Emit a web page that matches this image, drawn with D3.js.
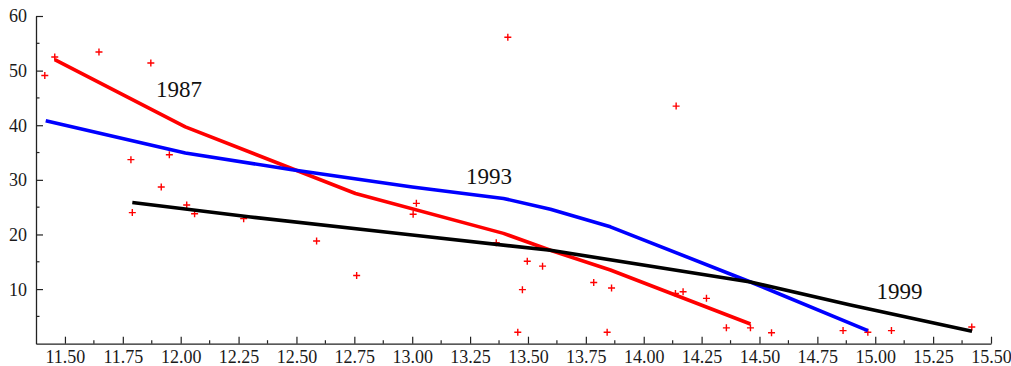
<!DOCTYPE html>
<html>
<head>
<meta charset="utf-8">
<script src="https://cdn.jsdelivr.net/npm/d3@7/dist/d3.min.js"></script>
<style>
  body { margin: 0; background: #fff; }
</style>
</head>
<body>
<div id="chart"></div>
<script>
// scatter points (x, y)
const pointsX = [11.413, 11.456, 11.647, 11.871, 11.785, 11.951, 11.791, 11.916, 12.026, 12.060,
  12.272, 12.587, 12.760, 13.004, 13.018, 13.363, 13.497, 13.563, 13.476, 13.456,
  13.413, 14.140, 13.784, 13.861, 13.842, 14.137, 14.170, 14.271, 14.357, 14.461,
  14.552, 14.861, 14.968, 15.070, 15.417];
const pointsY = [49.1, 52.5, 53.4, 51.4, 33.7, 34.6, 24.0, 28.7, 25.4, 23.8,
  22.9, 18.8, 12.5, 23.7, 25.7, 18.5, 15.1, 14.2, 9.9, 2.1,
  56.1, 43.5, 11.2, 10.2, 2.1, 9.2, 9.5, 8.3, 2.9, 2.9,
  2.0, 2.4, 2.1, 2.4, 3.05];

// fitted curves
const red1987X = [11.456, 12.02, 12.755, 13.394, 13.597, 13.856, 14.461];
const red1987Y = [52.0, 39.7, 27.5, 20.2, 17.1, 13.5, 3.6];
const blue1993X = [11.417, 12.02, 12.474, 13.0, 13.394, 13.597, 13.856, 14.461, 14.968];
const blue1993Y = [40.8, 34.9, 31.9, 28.7, 26.6, 24.6, 21.4, 11.3, 2.4];
const black1999X = [11.791, 12.302, 13.0, 13.597, 14.461, 14.893, 15.418];
const black1999Y = [25.85, 23.2, 19.9, 17.1, 11.3, 7.1, 2.3];

const xTicks = [11.5, 11.75, 12.0, 12.25, 12.5, 12.75, 13.0, 13.25, 13.5, 13.75, 14.0, 14.25, 14.5, 14.75, 15.0, 15.25, 15.5];
const yTicks = [10, 20, 30, 40, 50, 60];

const serif = '"Liberation Serif", "Times New Roman", serif';
const width = 1011, height = 366;
const x = d3.scaleLinear().domain([11.375, 15.5]).range([36, 991]);
const y = d3.scaleLinear().domain([0, 60]).range([343.7, 16]);

const svg = d3.select('#chart').append('svg')
  .attr('width', width)
  .attr('height', height);

// minor ticks
const xMinor = xTicks.map(d => d - 0.125).filter(d => d > 11.4);
const yMinor = yTicks.map(d => d - 5);

const xAxis = svg.append('g')
  .attr('transform', `translate(0,${y(0)})`)
  .call(d3.axisBottom(x).tickValues(xTicks).tickFormat(d3.format('.2f')).tickSizeInner(-7).tickSizeOuter(0));
xAxis.selectAll('.tick text').attr('y', 19.5).attr('dy', 0);
xAxis.append('g').selectAll('line').data(xMinor).enter().append('line')
  .attr('x1', d => x(d)).attr('x2', d => x(d)).attr('y1', 0).attr('y2', -3.5);

const yAxis = svg.append('g')
  .attr('transform', `translate(${x(11.375)},0)`)
  .call(d3.axisLeft(y).tickValues(yTicks).tickSizeInner(-7).tickSizeOuter(0));
yAxis.selectAll('.tick text').attr('x', -9).attr('dy', '0.33em');
yAxis.append('g').selectAll('line').data(yMinor).enter().append('line')
  .attr('x1', 0).attr('x2', 3.5).attr('y1', d => y(d)).attr('y2', d => y(d));

[xAxis, yAxis].forEach(g => g.attr('font-family', serif).attr('font-size', 18));
svg.selectAll('.domain').attr('stroke', '#222').attr('stroke-width', 1.3);
svg.selectAll('line').attr('stroke', '#222').attr('stroke-width', 1.2);
svg.selectAll('.tick text')
  .style('font-family', serif)
  .style('font-size', '18px')
  .attr('fill', '#1a1a1a');

// scatter crosses
const pts = pointsX.map((v, i) => [v, pointsY[i]]);
const marks = svg.append('g').attr('stroke', '#ff0000').attr('stroke-width', 1.4);
marks.selectAll('path').data(pts).enter().append('path')
  .attr('d', d => {
    const cx = x(d[0]), cy = y(d[1]), s = 3.5;
    return `M${cx - s},${cy}H${cx + s}M${cx},${cy - s}V${cy + s}`;
  });

// curves
const line = d3.line().x(d => x(d[0])).y(d => y(d[1]));
const series = [
  { xs: red1987X, ys: red1987Y, color: '#ff0000' },
  { xs: blue1993X, ys: blue1993Y, color: '#0000ff' },
  { xs: black1999X, ys: black1999Y, color: '#000000' }
];
series.forEach(s => {
  svg.append('path')
    .datum(s.xs.map((v, i) => [v, s.ys[i]]))
    .attr('fill', 'none')
    .attr('stroke', s.color)
    .attr('stroke-width', 3.6)
    .attr('stroke-linejoin', 'round')
    .attr('d', line);
});

// year labels
const labels = [
  { text: '1987', lx: 11.893, ly: 45.2 },
  { text: '1993', lx: 13.232, ly: 29.2 },
  { text: '1999', lx: 15.005, ly: 8.1 }
];
svg.selectAll('.year').data(labels).enter().append('text')
  .attr('class', 'year')
  .attr('x', d => x(d.lx))
  .attr('y', d => y(d.ly))
  .style('font-family', serif)
  .style('font-size', '23px')
  .attr('fill', '#111')
  .text(d => d.text);
</script>
</body>
</html>
